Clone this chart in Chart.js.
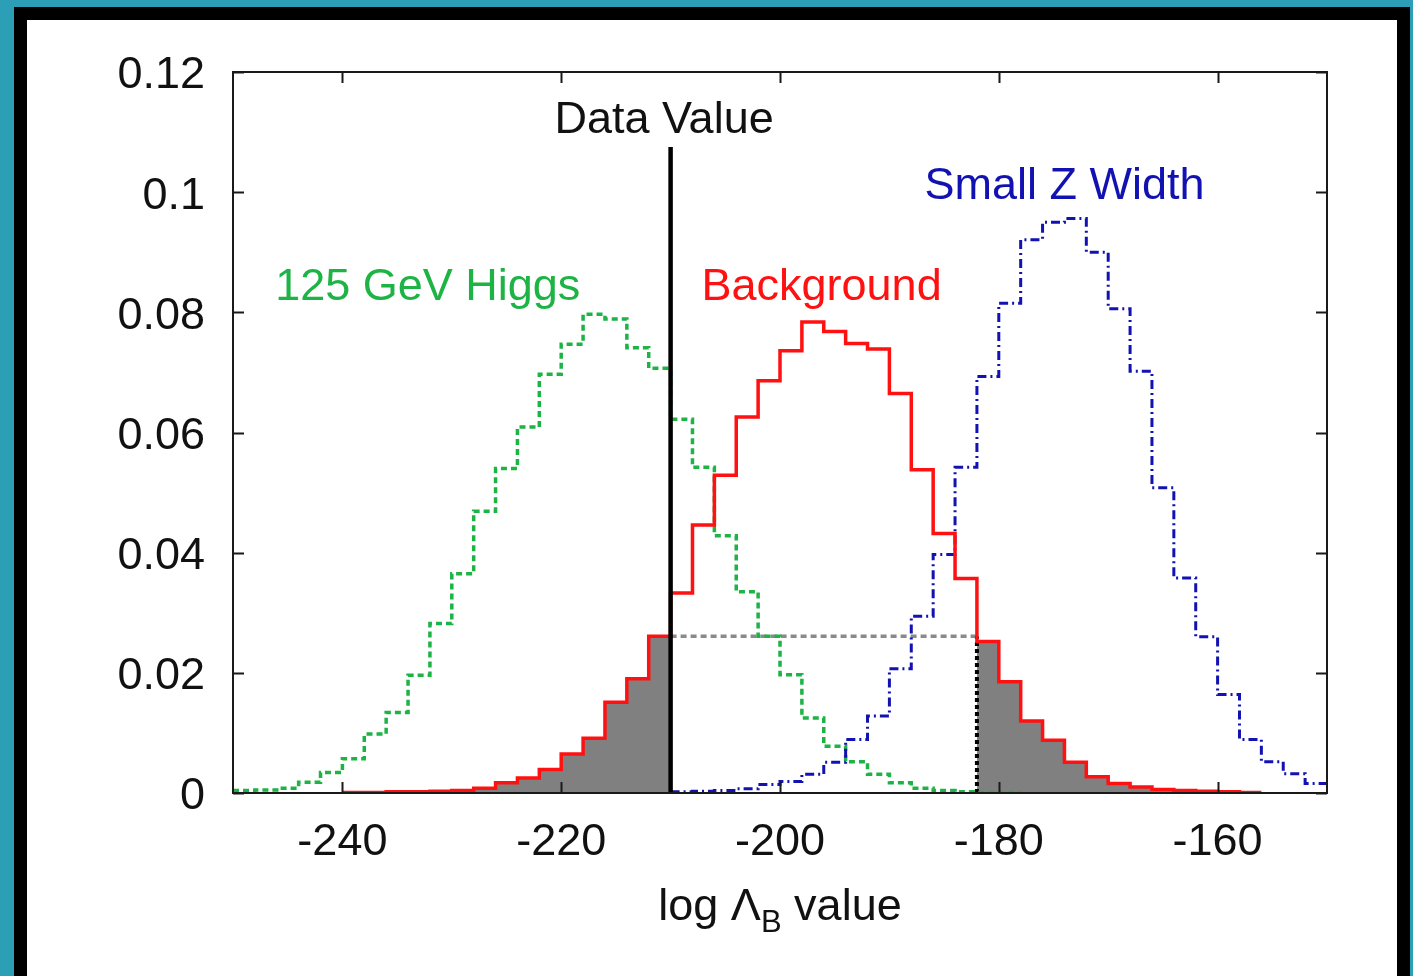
<!DOCTYPE html>
<html>
<head>
<meta charset="utf-8">
<script src="https://cdn.jsdelivr.net/npm/chart.js@4.4.1/dist/chart.umd.min.js"></script>
<style>
  html, body { margin: 0; padding: 0; }
  body { width: 1413px; height: 976px; overflow: hidden; background: #2c9fb6; position: relative; }
  #frame { position: absolute; left: 14px; top: 7px; width: 1396px; height: 990px; background: #000; }
  #panel { position: absolute; left: 27px; top: 20px; width: 1370px; height: 970px; background: #fff; }
  #chart { position: absolute; left: 0; top: 0; }
</style>
</head>
<body>
<div id="frame"></div>
<div id="panel"></div>
<canvas id="chart" width="1413" height="976"></canvas>
<script>
// bin edges of the histograms (width 2)
const binEdges = [-250, -248, -246, -244, -242, -240, -238, -236, -234, -232,
                  -230, -228, -226, -224, -222, -220, -218, -216, -214, -212,
                  -210, -208, -206, -204, -202, -200, -198, -196, -194, -192,
                  -190, -188, -186, -184, -182, -180, -178, -176, -174, -172,
                  -170, -168, -166, -164, -162, -160, -158, -156, -154, -152, -150];

// one value per bin, null = no entry
const higgsValues = [0.0004, 0.0005, 0.0008, 0.0018, 0.0034, 0.0057, 0.0098, 0.0134, 0.0196, 0.0282,
                     0.0365, 0.0469, 0.0540, 0.0609, 0.0697, 0.0747, 0.0797, 0.0789, 0.0741, 0.0707,
                     0.0622, 0.0542, 0.0428, 0.0335, 0.0261, 0.0197, 0.0125, 0.0078, 0.0052, 0.0031,
                     0.0017, 0.0008, 0.0004, 0.0002, 0.0001, 0.0001, null, null, null, null,
                     null, null, null, null, null, null, null, null, null, null];

const backgroundValues = [null, null, null, null, null, 0.0001, 0.0001, 0.0002, 0.0002, 0.0003,
                          0.0004, 0.0008, 0.0017, 0.0025, 0.0039, 0.0065, 0.0091, 0.0151, 0.0190, 0.0261,
                          0.0333, 0.0446, 0.0529, 0.0626, 0.0686, 0.0736, 0.0784, 0.0768, 0.0748, 0.0739,
                          0.0665, 0.0538, 0.0432, 0.0357, 0.0252, 0.0185, 0.0120, 0.0088, 0.0051, 0.0027,
                          0.0016, 0.0010, 0.0006, 0.0004, 0.0003, 0.0002, 0.0001, null, null, null];

const smallZValues = [null, null, null, null, null, null, null, null, null, null,
                      null, null, null, null, null, null, null, null, null, null,
                      0.0002, 0.0003, 0.0004, 0.0007, 0.0014, 0.0019, 0.0031, 0.0051, 0.0089, 0.0128,
                      0.0207, 0.0294, 0.0397, 0.0542, 0.0693, 0.0815, 0.0921, 0.0950, 0.0956, 0.0900,
                      0.0806, 0.0702, 0.0508, 0.0358, 0.0260, 0.0164, 0.0089, 0.0052, 0.0032, 0.0016];

// data value line and the mirrored tail cut
const dataValueX = -210;
const dataLineTop = 0.1075;
const mirrorX = -182;
const tailLevel = 0.0261;

const xTickValues = [-240, -220, -200, -180, -160];
const xTickLabels = ['-240', '-220', '-200', '-180', '-160'];
const yTickValues = [0, 0.02, 0.04, 0.06, 0.08, 0.1, 0.12];
const yTickLabels = ['0', '0.02', '0.04', '0.06', '0.08', '0.1', '0.12'];

const seriesLabels = ['125 GeV Higgs', 'Background', 'Small Z Width', 'Data Value'];

const GREEN = '#1db445';
const RED = '#ff1111';
const BLUE = '#1212b2';
const GREY = '#808080';

// build stepped points for a histogram, only bins inside [from, to]
function histPoints(values, from, to) {
    const pts = [];
    let last = null;
    for (let i = 0; i < values.length; i++) {
        const v = values[i];
        if (v === null || binEdges[i] < from || binEdges[i + 1] > to) continue;
        pts.push({ x: binEdges[i], y: v });
        last = i;
    }
    if (last !== null) pts.push({ x: binEdges[last + 1], y: values[last] });
    return pts;
}

const xMin = binEdges[0];
const xMax = binEdges[binEdges.length - 1];

// extra drawing: box, inward ticks, text labels, axis title
const plotDecor = {
    id: 'plotDecor',
    afterDatasetsDraw(chart) {
        const { ctx, chartArea: a, scales: { x, y } } = chart;
        ctx.save();
        ctx.strokeStyle = '#1a1a1a';
        ctx.lineWidth = 2;
        ctx.beginPath();
        xTickValues.forEach(v => {
            const px = Math.round(x.getPixelForValue(v)) + 0.5;
            ctx.moveTo(px, a.bottom); ctx.lineTo(px, a.bottom - 11);
            ctx.moveTo(px, a.top); ctx.lineTo(px, a.top + 11);
        });
        yTickValues.forEach(v => {
            const py = Math.round(y.getPixelForValue(v)) + 0.5;
            ctx.moveTo(a.left, py); ctx.lineTo(a.left + 11, py);
            ctx.moveTo(a.right, py); ctx.lineTo(a.right - 11, py);
        });
        ctx.stroke();
        ctx.strokeRect(a.left, a.top, a.right - a.left, a.bottom - a.top);

        // curve labels
        ctx.font = '45px "Liberation Sans", Arial, sans-serif';
        ctx.textAlign = 'center';
        ctx.textBaseline = 'alphabetic';
        const notes = [
            { text: seriesLabels[3], x: -210.6, y: 0.1098, color: '#111' },
            { text: seriesLabels[2], x: -174.0, y: 0.0989, color: BLUE },
            { text: seriesLabels[0], x: -232.2, y: 0.0821, color: GREEN },
            { text: seriesLabels[1], x: -196.2, y: 0.0821, color: RED }
        ];
        notes.forEach(n => {
            ctx.fillStyle = n.color;
            ctx.fillText(n.text, x.getPixelForValue(n.x), y.getPixelForValue(n.y));
        });

        // x axis title with subscript
        ctx.fillStyle = '#111';
        ctx.textAlign = 'left';
        const big = '45px "Liberation Sans", Arial, sans-serif';
        const small = '31px "Liberation Sans", Arial, sans-serif';
        ctx.font = big;
        const w1 = ctx.measureText('log \u039B').width;
        const w3 = ctx.measureText(' value').width;
        ctx.font = small;
        const w2 = ctx.measureText('B').width;
        let tx = (a.left + a.right) / 2 - (w1 + w2 + w3) / 2;
        const ty = 920;
        ctx.font = big;
        ctx.fillText('log \u039B', tx, ty);
        tx += w1;
        ctx.font = small;
        ctx.fillText('B', tx, ty + 12);
        tx += w2;
        ctx.font = big;
        ctx.fillText(' value', tx, ty);
        ctx.restore();
    }
};

Chart.defaults.font.family = '"Liberation Sans", Arial, sans-serif';
Chart.defaults.color = '#111';

const ctx = document.getElementById('chart').getContext('2d');
const chart = new Chart(ctx, {
    type: 'line',
    data: {
        datasets: [
            {
                label: 'Data Value',
                data: [{ x: dataValueX, y: 0 }, { x: dataValueX, y: dataLineTop }],
                borderColor: '#000', borderWidth: 4.5, pointRadius: 0, order: 0
            },
            {
                label: 'Background',
                data: histPoints(backgroundValues, xMin, xMax),
                stepped: 'before', borderColor: RED, borderWidth: 3.5, pointRadius: 0, order: 1
            },
            {
                label: 'Small Z Width',
                data: histPoints(smallZValues, xMin, xMax),
                stepped: 'before', borderColor: BLUE, borderWidth: 3, borderDash: [9, 4, 2, 4],
                pointRadius: 0, order: 2
            },
            {
                label: '125 GeV Higgs',
                data: histPoints(higgsValues, xMin, xMax),
                stepped: 'before', borderColor: GREEN, borderWidth: 3.5, borderDash: [6, 4],
                pointRadius: 0, order: 3
            },
            {
                label: 'mirror cut',
                data: [{ x: mirrorX, y: 0 }, { x: mirrorX, y: tailLevel }],
                borderColor: '#000', borderWidth: 4, borderDash: [4, 3], pointRadius: 0, order: 4
            },
            {
                label: 'tail level',
                data: [{ x: dataValueX, y: tailLevel }, { x: mirrorX, y: tailLevel }],
                borderColor: '#8a8a8a', borderWidth: 3.5, borderDash: [6, 4], pointRadius: 0, order: 5
            },
            {
                label: 'left tail',
                data: histPoints(backgroundValues, xMin, dataValueX),
                stepped: 'before', fill: 'origin', backgroundColor: GREY,
                borderColor: 'rgba(0,0,0,0)', borderWidth: 0, pointRadius: 0, order: 10
            },
            {
                label: 'right tail',
                data: histPoints(backgroundValues, mirrorX, xMax),
                stepped: 'before', fill: 'origin', backgroundColor: GREY,
                borderColor: 'rgba(0,0,0,0)', borderWidth: 0, pointRadius: 0, order: 11
            }
        ]
    },
    options: {
        responsive: false,
        animation: false,
        layout: { padding: { left: 0, top: 72, right: 86, bottom: 0 } },
        plugins: {
            legend: { display: false },
            tooltip: { enabled: false }
        },
        scales: {
            x: {
                type: 'linear',
                min: xMin,
                max: xMax,
                grid: { display: false },
                border: { display: false },
                afterBuildTicks: (s) => { s.ticks = xTickValues.map(v => ({ value: v })); },
                afterFit: (s) => { s.height = 183; },
                ticks: {
                    autoSkip: false,
                    maxRotation: 0,
                    padding: 15,
                    font: { size: 45 },
                    callback: (v, i) => xTickLabels[i]
                }
            },
            y: {
                type: 'linear',
                min: 0,
                max: 0.12,
                grid: { display: false },
                border: { display: false },
                afterBuildTicks: (s) => { s.ticks = yTickValues.map(v => ({ value: v })); },
                afterFit: (s) => { s.width = 233; },
                ticks: {
                    autoSkip: false,
                    padding: 20,
                    labelOffset: 4,
                    font: { size: 45 },
                    callback: (v, i) => yTickLabels[i]
                }
            }
        }
    },
    plugins: [plotDecor]
});
</script>
</body>
</html>
